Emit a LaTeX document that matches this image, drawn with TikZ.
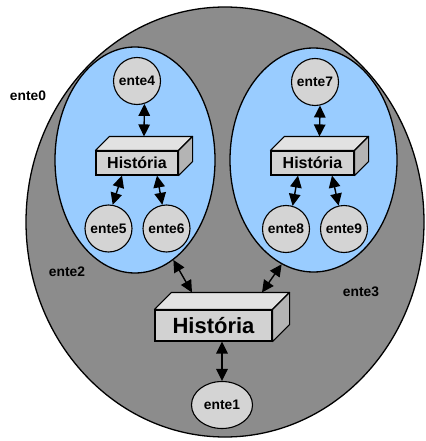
\documentclass[tikz,border=0pt]{standalone}
\usepackage{fontspec}
\setmainfont{Liberation Sans}
\usetikzlibrary{arrows.meta,calc,shapes.geometric}
\definecolor{outergray}{RGB}{140,140,140}
\definecolor{innerblue}{RGB}{153,204,255}
\definecolor{entgray}{RGB}{212,212,212}
\definecolor{boxfront}{RGB}{210,210,210}
\definecolor{boxtop}{RGB}{226,226,226}
\definecolor{boxside}{RGB}{180,180,180}
\newcommand\boxfaces[2]{%
  \filldraw[fill=boxtop,line width=1.1pt,line join=round] (#1.north west) -- ++(#2,-#2) -- ($(#1.north east)+(#2,-#2)$) -- (#1.north east) -- cycle;
  \filldraw[fill=boxside,line width=1.1pt,line join=round] (#1.north east) -- ++(#2,-#2) -- ($(#1.south east)+(#2,-#2)$) -- (#1.south east) -- cycle;}
\begin{document}
\begin{tikzpicture}[x=1pt,y=-1pt,
  region/.style={draw,ellipse,line width=1.3pt,inner sep=0},
  ente/.style={draw,circle,fill=entgray,line width=1.1pt,minimum size=47pt,inner sep=0,font=\bfseries\fontsize{13.8}{14}\selectfont},
  lbl/.style={font=\bfseries\fontsize{13.8}{14}\selectfont,inner sep=0},
  histbox/.style={draw,fill=boxfront,line width=1.1pt,inner sep=0,font=\bfseries\fontsize{16}{16}\selectfont},
  biarrow/.style={{Triangle[length=12pt,width=11.5pt]}-{Triangle[length=12pt,width=11.5pt]},line width=1.4pt}]
\useasboundingbox (0,0) rectangle (425,441);
% regions
\node[region,fill=outergray,minimum width=398pt,minimum height=430pt] (r0) at (225,222) {};
\node[region,fill=innerblue,minimum width=160pt,minimum height=226pt] (r2) at (135,160) {};
\node[region,fill=innerblue,minimum width=167pt,minimum height=224pt] (r3) at (313.5,160) {};
% labels
\node[lbl] (l0) at (28,96) {ente0};
\node[lbl] (l2) at (67,272) {ente2};
\node[lbl] (l3) at (361,292) {ente3};
% left cluster
\node[ente] (e4) at (137,81) {ente4};
\node[histbox,minimum width=82pt,minimum height=24pt] (h2) at (137,163) {História};
\boxfaces{h2}{14}
\node[ente] (e5) at (108.5,228.5) {ente5};
\node[ente] (e6) at (166.5,228.5) {ente6};
% right cluster
\node[ente] (e7) at (315,82) {ente7};
\node[histbox,minimum width=83pt,minimum height=24pt] (h3) at (312.5,163) {História};
\boxfaces{h3}{14}
\node[ente] (e8) at (286,229) {ente8};
\node[ente] (e9) at (344,229) {ente9};
% central
\node[histbox,minimum width=117pt,minimum height=31pt,font=\bfseries\fontsize{22}{22}\selectfont] (h0) at (213.5,325.5) {História};
\boxfaces{h0}{17}
\node[draw,ellipse,fill=entgray,line width=1.1pt,minimum width=61pt,minimum height=47pt,inner sep=0,font=\bfseries\fontsize{13.8}{14}\selectfont] (e1) at (222,405) {ente1};
% anchor coordinates
\coordinate (h2top) at ($(h2.north)+(7,-14)$);
\coordinate (h2bl) at ($(h2.south)+(-15,0)$);
\coordinate (h2br) at ($(h2.south)+(20,0)$);
\coordinate (h3top) at ($(h3.north)+(7,-14)$);
\coordinate (h3bl) at ($(h3.south)+(-14.5,0)$);
\coordinate (h3br) at ($(h3.south)+(19.5,0)$);
\coordinate (h0tl) at ($(h0.north)+(-21.5,-17)$);
\coordinate (h0tr) at ($(h0.north)+(48.5,-17)$);
\coordinate (h0b) at ($(h0.south)+(8.5,0)$);
% connectors
\draw[biarrow] (e4.-72) -- (h2top);
\draw[biarrow] (h2bl) -- (e5.80);
\draw[biarrow] (h2br) -- (e6.100);
\draw[biarrow] (e7.-78) -- (h3top);
\draw[biarrow] (h3bl) -- (e8.74);
\draw[biarrow] (h3br) -- (e9.103);
\draw[biarrow] (r2.-69) -- (h0tl);
\draw[biarrow] (r3.-107) -- (h0tr);
\draw[biarrow] (h0b) -- (e1.north);
\end{tikzpicture}
\end{document}
